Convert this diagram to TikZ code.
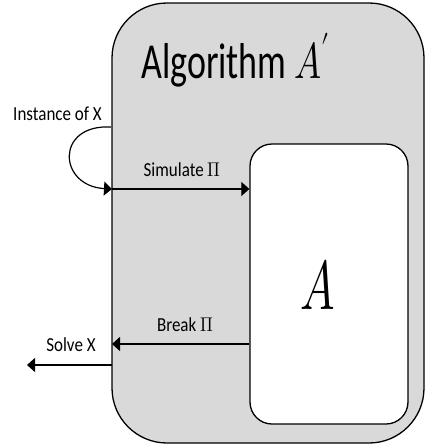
\documentclass[tikz,border=0pt]{standalone}
\usepackage{amsmath}
\usepackage{graphicx}
\usepackage{fontspec}
\usepackage{unicode-math}
\setmainfont{Carlito}
\setmathfont{Latin Modern Math}
\usetikzlibrary{arrows.meta}

\definecolor{boxgray}{RGB}{217,217,217}

\tikzset{
  box/.style={draw, line width=1.3pt, inner sep=0pt},
  lbl/.style={font=\fontsize{17}{20}\selectfont, inner sep=0pt},
  arr/.style={-{Triangle[length=8pt, width=14pt]}, line width=1.2pt}
}

\begin{document}
\begin{tikzpicture}[x=1pt, y=-1pt]
\useasboundingbox (0,0) rectangle (425,445);
% boxes
\node[box, fill=boxgray, rounded corners=55pt, minimum width=312pt, minimum height=440pt] (algo) at (268,223) {};
\node[box, fill=white, rounded corners=22pt, minimum width=158pt, minimum height=280pt] (orac) at (329,284) {};
\node[anchor=base west, inner sep=0pt, font=\fontsize{36}{40}\selectfont] (title) at (141,78) {\scalebox{1}[1.4]{Algorithm $A'$}};
\node[inner sep=0pt, font=\fontsize{46}{50}\selectfont] (a) at (318,285) {\scalebox{1}[1.5]{$A$}};
% labels
\node[lbl] (inst) at (57.5,114) {\scalebox{1}[1.17]{Instance of X}};
\node[lbl] (sim) at (182,170) {\scalebox{1}[1.17]{Simulate $\Pi$}};
\node[lbl] (brk) at (185,325) {\scalebox{1}[1.17]{Break $\Pi$}};
\node[lbl] (solve) at (71,345) {\scalebox{1}[1.17]{Solve X}};
% connectors
\coordinate (loopin) at (111,127);
\coordinate (simin) at (112,189);
\coordinate (brkout) at (112,344);
\coordinate (solvein) at (112,365);
\coordinate (solveout) at (27,365);
\draw[arr] (loopin) .. controls (55,124) and (58,186) .. (simin);
\draw[arr] (simin) -- (orac.west |- simin);
\draw[arr] (orac.west |- brkout) -- (brkout);
\draw[arr] (solvein) -- (solveout);
\end{tikzpicture}
\end{document}
